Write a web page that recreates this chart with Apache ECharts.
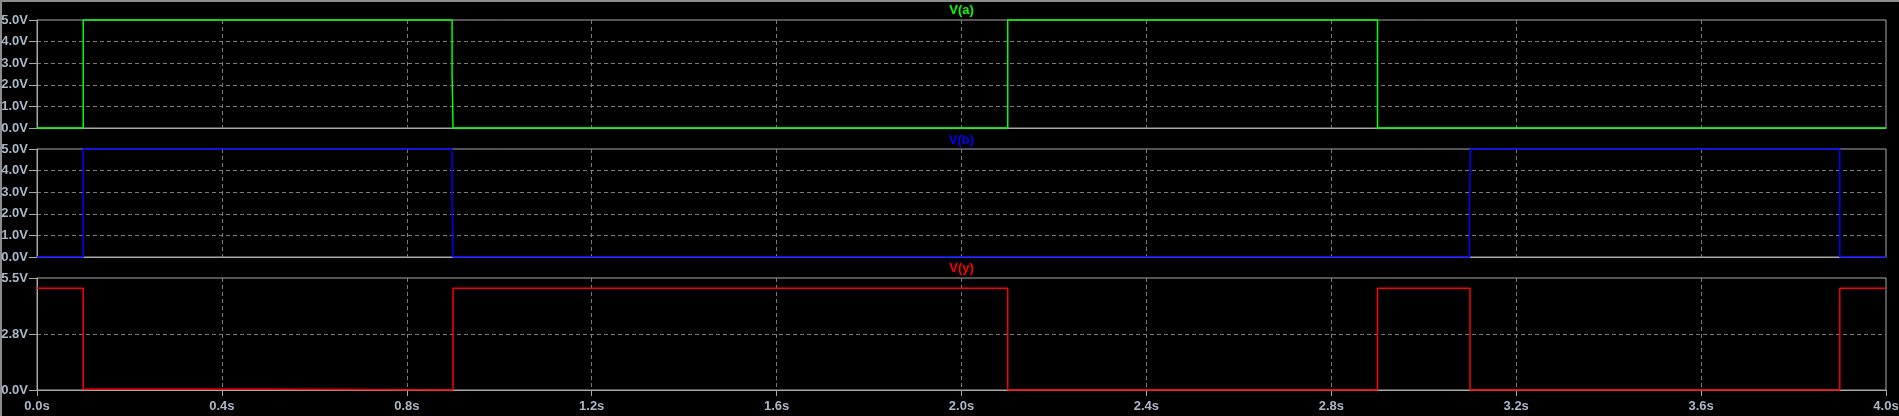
<!DOCTYPE html>
<html>
<head>
<meta charset="utf-8">
<script src="https://cdn.jsdelivr.net/npm/echarts@6/dist/echarts.min.js"></script>
<style>
html,body{margin:0;padding:0;background:#000;}
#c{width:1899px;height:416px;}
</style>
</head>
<body>
<div id="c"></div>
<script>
// ---- data (time in s, value in V) ----
const titles = ['V(a)', 'V(b)', 'V(y)'];
const colors = ['#00ff00', '#0000ff', '#ff0000'];

const tA = [0, 0.1, 0.1, 0.898, 0.898, 0.9, 0.9, 2.1, 2.1, 2.9, 2.9, 4.0];
const vA = [0, 0,   5,   5,     2.5,   2.5, 0,   0,   5,   5,   0,   0];

const tB = [0, 0.1, 0.1, 0.898, 0.898, 0.9, 0.9, 3.099, 3.099, 3.101, 3.101, 3.9, 3.9, 4.0];
const vB = [0, 0,   5,   5,     2.5,   2.5, 0,   0,     2.5,   2.5,   5,     5,   0,   0];

const tY = [0, 0.1, 0.1,  0.5,  0.5, 0.9, 0.9, 2.1, 2.1, 2.9, 2.9, 3.1, 3.1, 3.9, 3.9, 4.0];
const vY = [5, 5,   0.04, 0.04, 0,   0,   5,   5,   0,   0,   5,   5,   0,   0,   5,   5];

const xMin = 0, xMax = 4, xStep = 0.4;
const yRanges = [[0, 5, 1], [0, 5, 1], [0, 5.5, 2.75]];

// ---- layout ----
const L = 37, W = 1849;
const grids = [
  {left: L, top: 20, width: W, height: 108},
  {left: L, top: 149, width: W, height: 108},
  {left: L, top: 278, width: W, height: 112}
];
const titleY = [10, 140, 268];

const frame = '#a8a8a8';
const labelColor = '#aab8c8';
const gridLine = {show: true, showMinLine: false, showMaxLine: false,
  lineStyle: {color: '#7a7a7a', type: [4, 3], width: 1}};

function zip(t, v) { return t.map((x, i) => [x, v[i]]); }
const seriesData = [zip(tA, vA), zip(tB, vB), zip(tY, vY)];

const chart = echarts.init(document.getElementById('c'), null, {renderer: 'canvas'});

const option = {
  backgroundColor: '#000',
  animation: false,
  grid: grids.map(g => Object.assign({show: true, borderColor: frame, borderWidth: 1, backgroundColor: 'transparent',
    containLabel: false, outerBoundsMode: 'none'}, g)),
  xAxis: grids.map((g, i) => ({
    type: 'value', gridIndex: i, min: xMin, max: xMax, interval: xStep,
    axisLine: {show: true, lineStyle: {color: frame, width: 1}},
    axisTick: {show: i === 2, length: 6, lineStyle: {color: frame}},
    axisLabel: {show: i === 2, margin: 10, color: labelColor, fontFamily: 'Liberation Sans', fontWeight: 'bold', fontSize: 13,
      formatter: v => v.toFixed(1) + 's'},
    splitLine: gridLine
  })),
  yAxis: grids.map((g, i) => ({
    type: 'value', gridIndex: i, min: yRanges[i][0], max: yRanges[i][1], interval: yRanges[i][2],
    axisLine: {show: true, lineStyle: {color: frame, width: 1}},
    axisTick: {show: true, length: 8, lineStyle: {color: frame}},
    axisLabel: {margin: 9, color: labelColor, fontFamily: 'Liberation Sans', fontWeight: 'bold', fontSize: 13,
      formatter: v => v.toFixed(1) + 'V'},
    splitLine: gridLine
  })),
  series: seriesData.map((d, i) => ({
    type: 'line', xAxisIndex: i, yAxisIndex: i, data: d, showSymbol: false, symbol: 'none',
    clip: false, lineStyle: {color: colors[i], width: 1.5}, z: 5
  })),
  graphic: [
    {type: 'rect', shape: {x: 0, y: 0, width: 1899, height: 2}, style: {fill: '#8c8c8c'}, silent: true},
    {type: 'rect', shape: {x: 0, y: 0, width: 2, height: 416}, style: {fill: '#8c8c8c'}, silent: true}
  ].concat(titles.map((t, i) => ({
    type: 'text', x: L + W / 2, y: titleY[i],
    style: {text: t, fill: colors[i], font: 'bold 13px "Liberation Sans"', textAlign: 'center', textVerticalAlign: 'middle'}
  })))
};
chart.setOption(option);
</script>
</body>
</html>
